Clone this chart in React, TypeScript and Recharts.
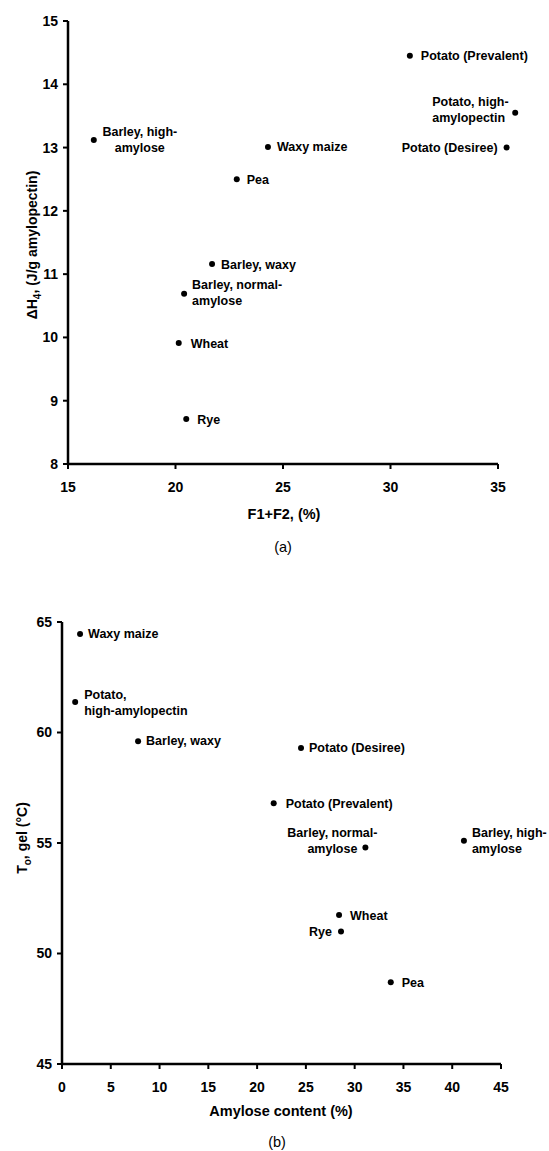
import React from 'react';
import { ScatterChart, Scatter, XAxis, YAxis, ReferenceLine } from 'recharts';

// ---------- Data: panel (a) ----------
const namesA = [
  'Barley, high-\namylose',
  'Waxy maize',
  'Pea',
  'Barley, waxy',
  'Barley, normal-\namylose',
  'Wheat',
  'Rye',
  'Potato (Prevalent)',
  'Potato, high-\namylopectin',
  'Potato (Desiree)',
];
const f1f2 = [16.2, 24.3, 22.85, 21.7, 20.4, 20.15, 20.5, 30.9, 35.8, 35.4];
const deltaH = [13.12, 13.01, 12.5, 11.16, 10.69, 9.91, 8.71, 14.45, 13.55, 13.0];
const xTicksA = [15, 20, 25, 30, 35];
const yTicksA = [8, 9, 10, 11, 12, 13, 14, 15];

// ---------- Data: panel (b) ----------
const namesB = [
  'Waxy maize',
  'Potato,\nhigh-amylopectin',
  'Barley, waxy',
  'Potato (Desiree)',
  'Potato (Prevalent)',
  'Barley, normal-\namylose',
  'Barley, high-\namylose',
  'Wheat',
  'Rye',
  'Pea',
];
const amylose = [1.85, 1.35, 7.8, 24.5, 21.7, 31.1, 41.2, 28.4, 28.6, 33.7];
const tGel = [64.46, 61.38, 59.6, 59.3, 56.8, 54.8, 55.1, 51.74, 51.0, 48.7];
const xTicksB = [0, 5, 10, 15, 20, 25, 30, 35, 40, 45];
const yTicksB = [45, 50, 55, 60, 65];

// ---------- Label placement (styling) ----------
type Place = [number, number, 'start' | 'middle' | 'end'];
const placeA: Place[] = [
  [46, -3.5, 'middle'],
  [9, 4.5, 'start'],
  [10, 4.5, 'start'],
  [9, 4.5, 'start'],
  [8, -4.5, 'start'],
  [12, 4.5, 'start'],
  [11, 4.5, 'start'],
  [11, 4.5, 'start'],
  [-83, -6.5, 'start'],
  [-9, 4.5, 'end'],
];
const placeB: Place[] = [
  [8, 4.5, 'start'],
  [9, -3.5, 'start'],
  [8, 4, 'start'],
  [8, 4.5, 'start'],
  [12, 4.5, 'start'],
  [-33, -10.5, 'middle'],
  [8, -3.5, 'start'],
  [11, 4.5, 'start'],
  [-9, 4.5, 'end'],
  [11, 4.5, 'start'],
];

const FONT = '"Liberation Sans", Arial, Helvetica, sans-serif';
const LINE_H = 16;

const dataA = namesA.map((name, i) => ({ i, name, x: f1f2[i], y: deltaH[i] }));
const dataB = namesB.map((name, i) => ({ i, name, x: amylose[i], y: tGel[i] }));

const makeShape = (place: Place[]) => (props: any) => {
  const { cx, cy, payload } = props;
  const [dx, dy, anchor] = place[payload.i];
  const lines = String(payload.name).split('\n');
  return (
    <g>
      <circle cx={cx} cy={cy} r={3} fill="#000" />
      <text
        x={cx + dx}
        y={cy + dy}
        textAnchor={anchor}
        fontFamily={FONT}
        fontSize={12.5}
        fontWeight="bold"
        fill="#000"
      >
        {lines.map((l, k) => (
          <tspan key={k} x={cx + dx} dy={k === 0 ? 0 : LINE_H}>
            {l}
          </tspan>
        ))}
      </text>
    </g>
  );
};

const tickStyle = { fontFamily: FONT, fontSize: 14, fontWeight: 'bold', fill: '#000' } as any;
const axisLineStyle = { stroke: '#000', strokeWidth: 2.5 };
const tickLineStyle = { stroke: '#000', strokeWidth: 2 };

export default function App() {
  return (
    <div style={{ position: 'absolute', left: 0, top: 0, width: 549, height: 1151, background: '#fff' }}>
      <div style={{ position: 'absolute', left: 0, top: 0 }}>
        <ScatterChart width={549} height={580} margin={{ top: 21, right: 29.5, left: 8, bottom: 76 }}>
          <XAxis
            type="number"
            dataKey="x"
            domain={[15, 36]}
            ticks={xTicksA}
            height={40}
            axisLine={false}
            tickLine={tickLineStyle}
            tickSize={5}
            tickMargin={13}
            tick={tickStyle}
          />
          <YAxis
            type="number"
            dataKey="y"
            domain={[8, 15]}
            ticks={yTicksA}
            width={60}
            axisLine={axisLineStyle}
            tickLine={tickLineStyle}
            tickSize={5}
            tickMargin={5}
            tick={tickStyle}
          />
          <ReferenceLine
            segment={[{ x: 15, y: 8 }, { x: 35, y: 8 }]}
            stroke="#000"
            strokeWidth={2.5}
            ifOverflow="visible"
          />
          <Scatter data={dataA} isAnimationActive={false} shape={makeShape(placeA)} />
        </ScatterChart>
      </div>
      <div style={{ position: 'absolute', left: 0, top: 580 }}>
        <ScatterChart width={549} height={571} margin={{ top: 42, right: 48, left: 8, bottom: 47 }}>
          <XAxis
            type="number"
            dataKey="x"
            domain={[0, 45]}
            ticks={xTicksB}
            height={40}
            axisLine={axisLineStyle}
            tickLine={tickLineStyle}
            tickSize={5}
            tickMargin={13}
            tick={tickStyle}
          />
          <YAxis
            type="number"
            dataKey="y"
            domain={[45, 65]}
            ticks={yTicksB}
            width={54}
            axisLine={axisLineStyle}
            tickLine={tickLineStyle}
            tickSize={5}
            tickMargin={5}
            tick={tickStyle}
          />
          <Scatter data={dataB} isAnimationActive={false} shape={makeShape(placeB)} />
        </ScatterChart>
      </div>
      <svg
        width={549}
        height={1151}
        style={{ position: 'absolute', left: 0, top: 0, pointerEvents: 'none' }}
        fontFamily={FONT}
        fill="#000"
      >
        <text x={284} y={518.5} textAnchor="middle" fontSize={14.5} fontWeight="bold">
          F1+F2, (%)
        </text>
        <text x={283} y={552} textAnchor="middle" fontSize={14.5}>
          (a)
        </text>
        <text transform="translate(37,245) rotate(-90)" textAnchor="middle" fontSize={14} fontWeight="bold">
          ΔH<tspan fontSize={10} dy={4}>4</tspan>
          <tspan dy={-4}>, (J/g amylopectin)</tspan>
        </text>
        <text x={281} y={1115.5} textAnchor="middle" fontSize={14.5} fontWeight="bold">
          Amylose content (%)
        </text>
        <text x={277} y={1147} textAnchor="middle" fontSize={14.5}>
          (b)
        </text>
        <text transform="translate(27,838) rotate(-90)" textAnchor="middle" fontSize={14} fontWeight="bold">
          T<tspan fontSize={10} dy={4}>o</tspan>
          <tspan dy={-4}>, gel (°C)</tspan>
        </text>
      </svg>
    </div>
  );
}
